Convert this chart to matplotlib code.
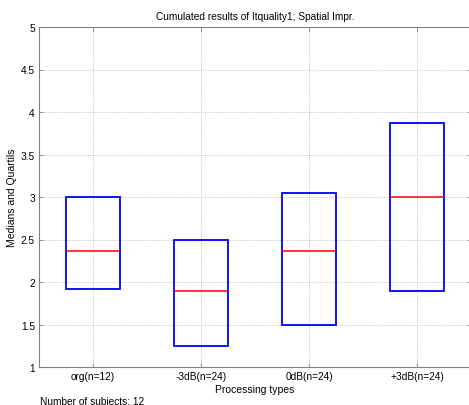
import matplotlib.pyplot as plt

# Dados: quartis e medianas por tipo de processamento
categorias = ["org(n=12)", "-3dB(n=24)", "0dB(n=24)", "+3dB(n=24)"]
quartil_inf = [1.92, 1.25, 1.50, 1.90]
mediana = [2.36, 1.89, 2.36, 3.00]
quartil_sup = [3.00, 2.50, 3.05, 3.87]

plt.rcParams['font.family'] = ['Liberation Sans', 'DejaVu Sans']

fig = plt.figure(figsize=(4.69, 4.06), dpi=100)
ax = fig.add_axes([39 / 469, 38 / 406, 432 / 469, 340 / 406])

pos = list(range(1, len(categorias) + 1))
alturas = [s - i for s, i in zip(quartil_sup, quartil_inf)]
ax.bar(pos, alturas, bottom=quartil_inf, width=0.5, fill=False,
       edgecolor='#0000ff', linewidth=1.3, zorder=3)
ax.hlines(mediana, [p - 0.25 for p in pos], [p + 0.25 for p in pos],
          colors='#ff0000', linewidth=1.1, zorder=4)

ax.set_xlim(0.5, 4.5)
ax.set_ylim(1, 5)
ax.set_xticks(pos)
ax.set_xticklabels(categorias)
ax.set_yticks([1, 1.5, 2, 2.5, 3, 3.5, 4, 4.5, 5])
ax.set_yticklabels(['1', '1.5', '2', '2.5', '3', '3.5', '4', '4.5', '5'])
ax.grid(True, linestyle=':', color='#b0b0b0', linewidth=0.6)
ax.set_axisbelow(True)

for s in ax.spines.values():
    s.set_color('#808080')
ax.tick_params(direction='in', length=3, width=0.6, color='#808080',
               labelsize=7.3, top=True, right=True, pad=3)

ax.set_title("Cumulated results of Itquality1; Spatial Impr.", fontsize=7.3, pad=6)
ax.set_xlabel("Processing types", fontsize=7.5, labelpad=2)
ax.set_ylabel("Medians and Quartils", fontsize=7.5, labelpad=3)
fig.text(40 / 469, 1 - 402 / 406, "Number of subjects: 12", fontsize=7.3, va='center')

fig.savefig("out.png", dpi=100)
